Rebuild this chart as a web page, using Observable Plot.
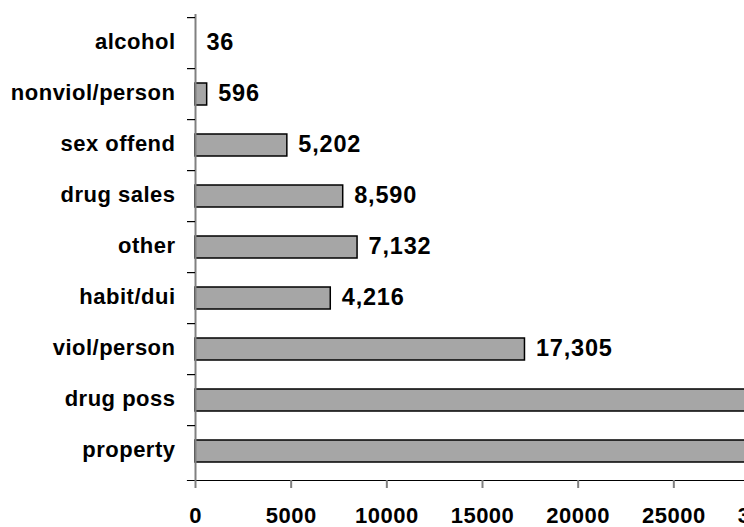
<!DOCTYPE html>
<html>
<head>
<meta charset="utf-8">
<script src="https://cdn.jsdelivr.net/npm/d3@7"></script>
<script src="https://cdn.jsdelivr.net/npm/@observablehq/plot@0.6"></script>
<style>
  html, body { margin: 0; padding: 0; background: #fff; overflow: hidden; width: 744px; height: 527px; }
  #chart svg { overflow: visible; display: block; max-width: none !important; }
  #chart svg text { letter-spacing: 0.5px; }
  #chart svg g.vals text { letter-spacing: 0.8px; }
</style>
</head>
<body>
<div id="chart"></div>
<script>
// Categories, top to bottom
const categories = ["alcohol", "nonviol/person", "sex offend", "drug sales", "other", "habit/dui", "viol/person", "drug poss", "property"];
// Bar lengths as drawn (the last two run off the picture)
const barValues = [0, 610, 4800, 7720, 8470, 7070, 17220, 36000, 39000];
// Data labels as printed beside the bars (last two fall outside the picture)
const valueLabels = ["36", "596", "5,202", "8,590", "7,132", "4,216", "17,305", "", ""];
// X axis ticks
const xTicks = [0, 5000, 10000, 15000, 20000, 25000, 30000];

const data = categories.map((c, i) => ({category: c, value: barValues[i], label: valueLabels[i]}));

const font = "'Liberation Sans', Arial, sans-serif";
const marginTop = 14, marginBottom = 47, height = 527;
const step = (height - marginTop - marginBottom) / categories.length;

const chart = Plot.plot({
  width: 800,
  height,
  marginLeft: 195,
  marginRight: 31,
  marginTop,
  marginBottom,
  style: {fontFamily: font, fontWeight: "bold", fontSize: "22px", color: "black", background: "white", maxWidth: "none"},
  x: {domain: [0, 30000], ticks: xTicks, label: null},
  y: {domain: categories, paddingInner: 0.57, paddingOuter: 0.285, align: 0.5, label: null},
  marks: [
    Plot.barX(data, {filter: d => d.value > 0, x: "value", y: "category", fill: "#a6a6a6", stroke: "black", strokeWidth: 1.5}),
    Plot.text(data, {x: "value", y: "category", text: "label", textAnchor: "start", dx: 11, dy: -1, fontSize: 23.5, fontWeight: "bold", fill: "black", className: "vals"}),
    Plot.ruleX([0], {stroke: "#808080", strokeWidth: 2}),
    Plot.frame({anchor: "bottom", insetLeft: -8, stroke: "black", strokeWidth: 1.2}),
    Plot.axisY({tickSize: 8, dy: -step / 2, text: null, label: null, stroke: "black", strokeWidth: 1.2}),
    Plot.axisY({tickSize: 0, tickPadding: 20, dy: -2, label: null, fontSize: 22, fontWeight: "bold", fill: "black"}),
    Plot.axisX({ticks: xTicks, tickSize: 8, tickPadding: 19, label: null, stroke: "#808080", strokeWidth: 2, tickFormat: d => String(d), fontSize: 22, fontWeight: "bold", fill: "black"})
  ]
});
document.getElementById("chart").append(chart);
</script>
</body>
</html>
